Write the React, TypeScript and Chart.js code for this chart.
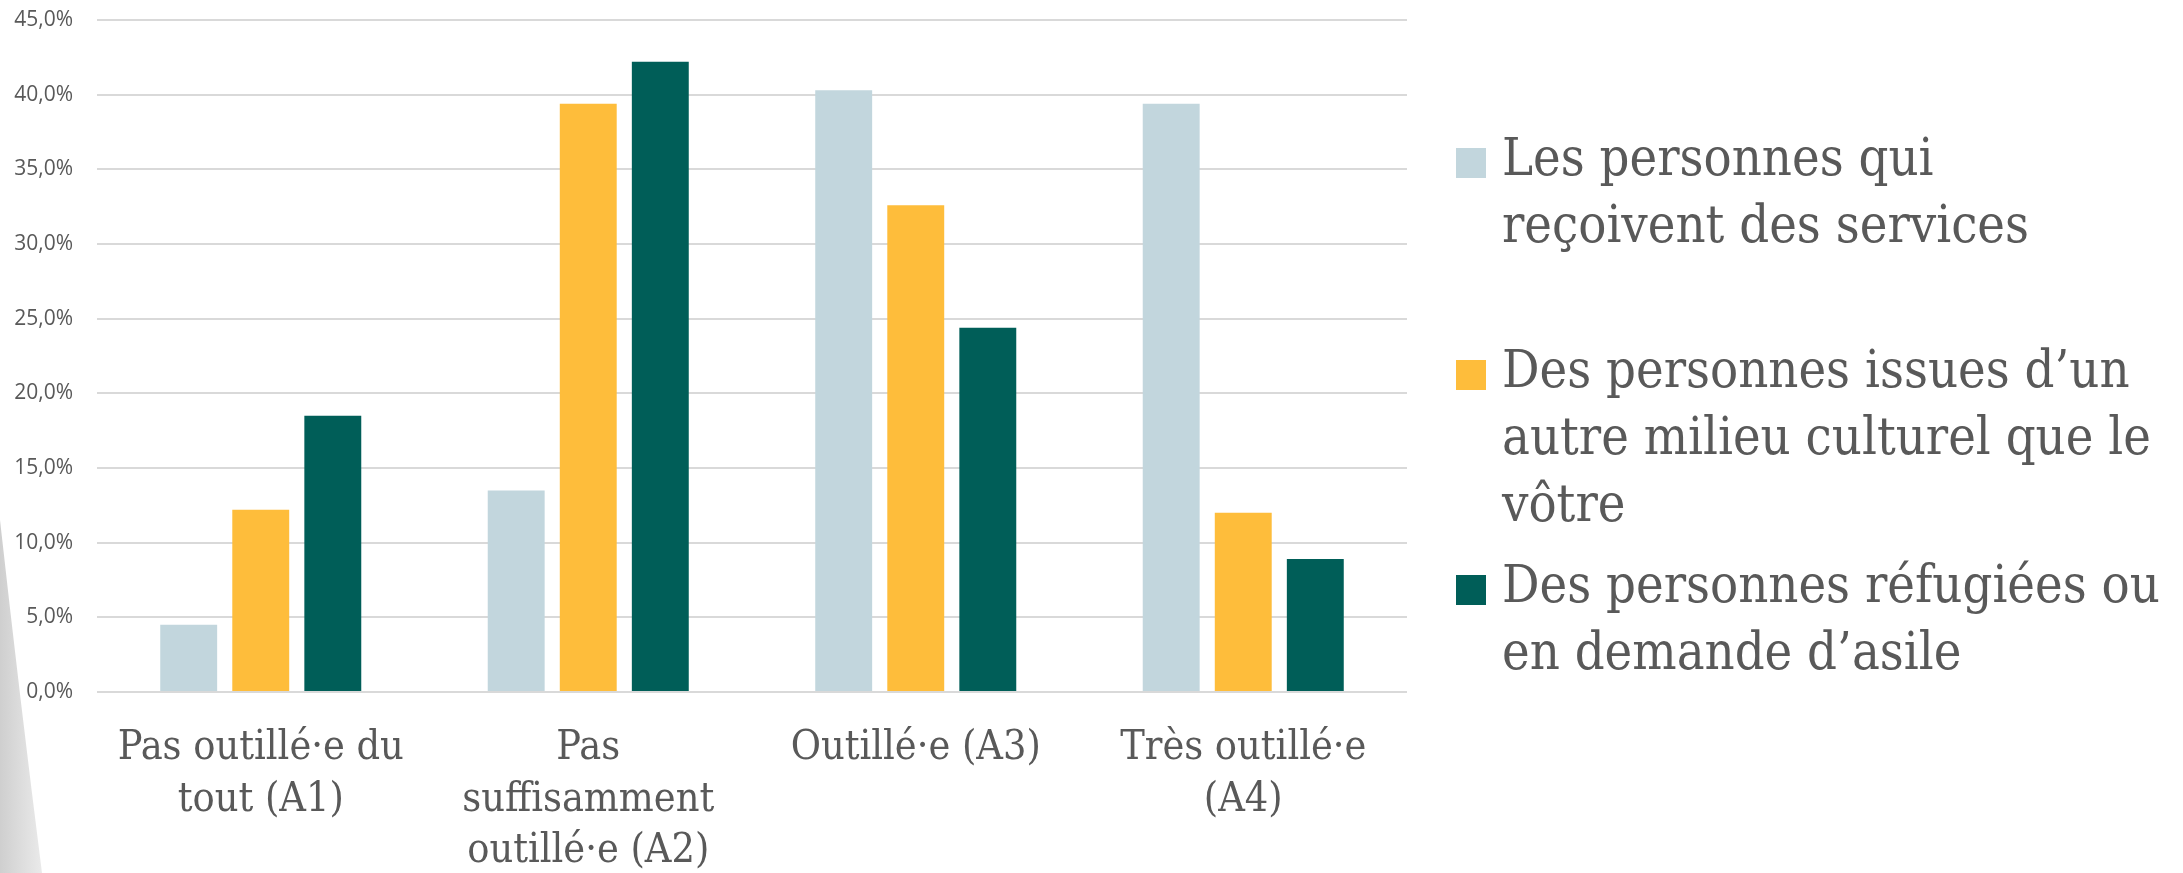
import React, { useEffect, useRef } from "react";
import { Chart, registerables } from "chart.js";

Chart.register(...registerables);

// ---- Data ----
const categories: string[][] = [
  ["Pas outillé·e du", "tout (A1)"],
  ["Pas", "suffisamment", "outillé·e (A2)"],
  ["Outillé·e (A3)"],
  ["Très outillé·e", "(A4)"],
];

const seriesLabels: string[] = [
  "Les personnes qui reçoivent des services",
  "Des personnes issues d’un autre milieu culturel que le vôtre",
  "Des personnes réfugiées ou en demande d’asile",
];

const legendLines: string[][] = [
  ["Les personnes qui", "reçoivent des services"],
  ["Des personnes issues d’un", "autre milieu culturel que le", "vôtre"],
  ["Des personnes réfugiées ou", "en demande d’asile"],
];

const servicesValues: number[] = [4.5, 13.5, 40.3, 39.4];
const culturalValues: number[] = [12.2, 39.4, 32.6, 12.0];
const refugeeValues: number[] = [18.5, 42.2, 24.4, 8.9];

const yMin = 0;
const yMax = 45;
const yStep = 5;

const seriesColors: string[] = ["#C2D6DD", "#FEBD3B", "#005E58"];

// ---- Styling ----
const SERIF = "'DejaVu Serif Condensed', 'DejaVu Serif', serif";
const SANS = "'Open Sans', 'Liberation Sans', sans-serif";
const TEXT = "#595959";

const W = 2183;
const H = 873;

const leftSwoosh = {
  id: "leftSwoosh",
  beforeDraw(chart: any) {
    const ctx = chart.ctx;
    ctx.save();
    const g = ctx.createLinearGradient(0, 0, 45, 0);
    g.addColorStop(0, "#cfcfcf");
    g.addColorStop(1, "#ececec");
    ctx.fillStyle = g;
    ctx.beginPath();
    ctx.moveTo(0, 520);
    ctx.quadraticCurveTo(20, 700, 42, 873);
    ctx.lineTo(0, 873);
    ctx.closePath();
    ctx.fill();
    ctx.restore();
  },
};

export default function App() {
  const ref = useRef<HTMLCanvasElement | null>(null);

  useEffect(() => {
    if (!ref.current) return;
    const chart = new Chart(ref.current, {
      type: "bar",
      data: {
        labels: categories as any,
        datasets: [servicesValues, culturalValues, refugeeValues].map((d, i) => ({
          label: seriesLabels[i],
          data: d,
          backgroundColor: seriesColors[i],
          borderWidth: 0,
          categoryPercentage: 0.66,
          barPercentage: 0.79,
        })),
      },
      options: {
        responsive: false,
        animation: false,
        layout: { padding: { left: 0, right: W - 1407, top: 20, bottom: 0 } },
        plugins: {
          legend: { display: false },
          tooltip: { enabled: false },
        },
        scales: {
          x: {
            grid: { display: false },
            border: { display: false },
            ticks: {
              color: TEXT,
              font: { family: SERIF, size: 41, lineHeight: 1.25 },
              maxRotation: 0,
              autoSkip: false,
              padding: 23,
            },
            afterFit: (s: any) => {
              s.height = 181;
            },
          },
          y: {
            min: yMin,
            max: yMax,
            border: { display: false },
            grid: {
              color: "#d9d9d9",
              lineWidth: 2,
              drawTicks: true,
              tickLength: 18,
              tickColor: "rgba(0,0,0,0)",
            },
            ticks: {
              stepSize: yStep,
              color: TEXT,
              padding: 6,
              font: { family: SANS, size: 21 },
              callback: (v: any) => Number(v).toFixed(1).replace(".", ",") + "%",
            },
            afterFit: (s: any) => {
              s.width = 97;
            },
          },
        },
      },
      plugins: [leftSwoosh],
    });
    return () => chart.destroy();
  }, []);

  const baselines = [175, 387, 602];

  return (
    <div style={{ position: "absolute", left: 0, top: 0, width: W, height: H, background: "#fff" }}>
      <canvas ref={ref} width={W} height={H} style={{ display: "block", width: W, height: H }} />
      {legendLines.map((lines, i) => (
        <div key={i} style={{ position: "absolute", left: 1456, top: baselines[i] - 51.5 }}>
          <div
            style={{
              position: "absolute",
              left: 0,
              top: 51.5 - 27,
              width: 30,
              height: 30,
              background: seriesColors[i],
            }}
          />
          <div
            style={{
              position: "absolute",
              left: 46,
              top: 0,
              whiteSpace: "nowrap",
              fontFamily: SERIF,
              fontSize: 52,
              lineHeight: "67px",
              color: TEXT,
            }}
          >
            {lines.map((l, j) => (
              <div key={j}>{l}</div>
            ))}
          </div>
        </div>
      ))}
    </div>
  );
}
